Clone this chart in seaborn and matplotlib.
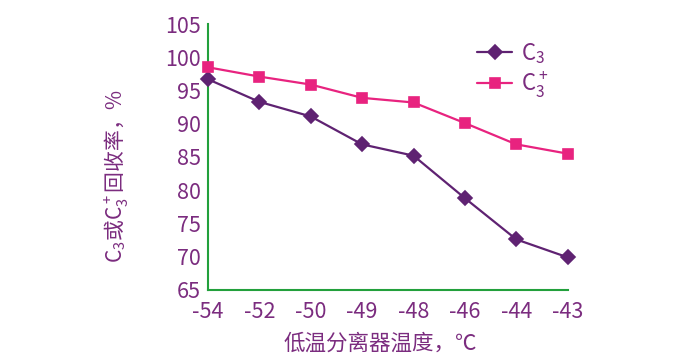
import pandas as pd
import seaborn as sns
import matplotlib.pyplot as plt

# -------------------------------
# Data
# -------------------------------
temps = ["-54", "-52", "-50", "-49", "-48", "-46", "-44", "-43"]
c3 = [96.7, 93.3, 91.1, 86.9, 85.2, 78.8, 72.6, 69.9]
c3_plus = [98.5, 97.1, 95.9, 93.9, 93.2, 90.1, 86.9, 85.5]
series_names = ["C$_3$", "C$_3^+$"]
yticks = [65, 70, 75, 80, 85, 90, 95, 100, 105]

df = pd.DataFrame({
    "temp": temps * 2,
    "rate": c3 + c3_plus,
    "series": [series_names[0]] * len(temps) + [series_names[1]] * len(temps),
})

# -------------------------------
# Style
# -------------------------------
sns.set_theme(style="white")
plt.rcParams['font.family'] = ['Noto Sans CJK SC', 'DejaVu Sans']
plt.rcParams['mathtext.fontset'] = 'custom'
plt.rcParams['mathtext.rm'] = 'Noto Sans CJK SC'
plt.rcParams['mathtext.it'] = 'Noto Sans CJK SC'
plt.rcParams['mathtext.default'] = 'regular'

text_color = "#7b2c7f"
spine_color = "#22a03c"
palette = ["#5f2272", "#e8237f"]

fig = plt.figure(figsize=(6.84, 3.54), dpi=100)
ax = fig.add_axes([0.304, 0.181, 0.526, 0.751])

sns.pointplot(data=df, x="temp", y="rate", hue="series", order=temps,
              hue_order=series_names, palette=palette, markers=["D", "s"],
              linestyles=["-", "-"], errorbar=None, markersize=7.5,
              linewidth=1.6, ax=ax)

# keep markers at the axis edges visible
for line in ax.lines:
    line.set_clip_on(False)
    line.set_zorder(5)

ax.set_xlim(0, len(temps) - 1)
ax.set_ylim(65, 105)
ax.set_yticks(yticks)
ax.set_yticklabels([str(v) for v in yticks])

for side in ["top", "right"]:
    ax.spines[side].set_visible(False)
for side in ["left", "bottom"]:
    ax.spines[side].set_color(spine_color)
    ax.spines[side].set_linewidth(1.5)

ax.tick_params(axis="both", direction="in", colors=spine_color, width=1.3,
               labelcolor=text_color, labelsize=15.5)
ax.tick_params(axis="y", length=5, pad=5)
ax.tick_params(axis="x", length=4, pad=8)

ax.set_xlabel("低温分离器温度，℃", fontsize=15.5, color=text_color)
ax.set_ylabel("C$_3$或C$_3^+$回收率，%", fontsize=15, color=text_color)
ax.yaxis.set_label_coords(-0.215, 0.43)
ax.xaxis.set_label_coords(0.48, -0.16)

leg = ax.get_legend()
handles = leg.legend_handles
labels = [t.get_text() for t in leg.get_texts()]
leg.remove()
ax.legend(handles, labels, loc="upper left", bbox_to_anchor=(0.668, 0.94),
          bbox_transform=fig.transFigure, frameon=False, fontsize=16,
          labelcolor=text_color, handlelength=1.6, labelspacing=0.15,
          handletextpad=0.4)

fig.savefig("out.png", dpi=100)
